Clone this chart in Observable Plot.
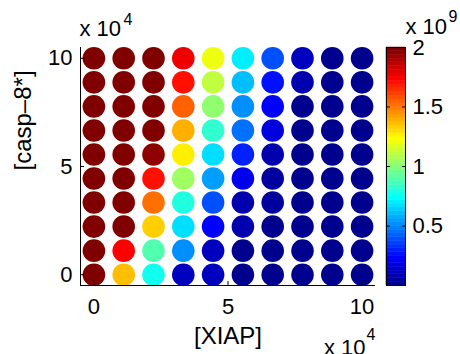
<!DOCTYPE html>
<html><head><meta charset="utf-8">
<script src="https://cdn.jsdelivr.net/npm/d3@7"></script>
<script src="https://cdn.jsdelivr.net/npm/@observablehq/plot@0.6"></script>
<style>
body{margin:0;background:#fff}
#wrap{position:relative;width:460px;height:354px;overflow:hidden}
#wrap svg{position:absolute;left:0;top:0}
</style>
</head><body><div id="wrap"></div>
<script>
// [XIAP] grid positions (columns)
const xiap = [0, 11111, 22222, 33333, 44444, 55556, 66667, 77778, 88889, 100000];
// [casp-8*] grid positions (rows, top to bottom)
const casp8 = [100000, 88889, 77778, 66667, 55556, 44444, 33333, 22222, 11111, 0];
// colour values, in units of 1e9, one row per casp8 entry
const zRows = [
  [2, 2, 2,    1.78, 1.19, 0.69, 0.38, 0.11, 0.02, 0],
  [2, 2, 2,    1.69, 1.10, 0.60, 0.25, 0.08, 0.01, 0],
  [2, 2, 2,    1.56, 1.00, 0.53, 0.22, 0.03, 0,    0],
  [2, 2, 2,    1.40, 0.84, 0.44, 0.16, 0.02, 0,    0],
  [2, 2, 1.94, 1.25, 0.66, 0.31, 0.09, 0.02, 0,    0],
  [2, 2, 1.70, 1.06, 0.55, 0.20, 0.06, 0.01, 0,    0],
  [2, 2, 1.50, 0.81, 0.40, 0.09, 0.04, 0,    0,    0],
  [2, 2, 1.32, 0.66, 0.22, 0.08, 0.02, 0,    0,    0],
  [2, 1.72, 0.88, 0.52, 0.11, 0.01, 0,   0,    0,    0],
  [2, 1.36, 0.78, 0.12, 0.10, 0.02, 0,   0,    0,    0]
];
const axisTicks = [0, 50000, 100000];
const colorTicks = [0.5e9, 1e9, 1.5e9, 2e9];
const colorDomain = [0, 2e9];

// MATLAB jet(64)
function jet64(t) {
  const i = Math.max(1, Math.min(64, Math.floor(t * 64) + 1));
  const u = k => (k < 1 || k > 47) ? 0 : k <= 16 ? k / 16 : k <= 31 ? 1 : (48 - k) / 16;
  const c = v => Math.round(v * 255);
  return `rgb(${c(u(i - 24))},${c(u(i - 8))},${c(u(i + 8))})`;
}

const cells = casp8.flatMap((y, r) => xiap.map((x, c) => ({x, y, z: zRows[r][c] * 1e9})));
const font = "'Liberation Sans', Arial, Helvetica, sans-serif";
const colorScale = {type: "linear", domain: colorDomain, interpolate: jet64};

const main = Plot.plot({
  width: 460, height: 354,
  marginLeft: 80, marginRight: 85, marginTop: 47, marginBottom: 69,
  style: {fontFamily: font, fontSize: "22px", color: "#000", background: "transparent"},
  x: {domain: [-5000, 105000]},
  y: {domain: [-5000, 105000]},
  color: colorScale,
  marks: [
    Plot.dot(cells, {x: "x", y: "y", r: 11.3, fill: "z"}),
    Plot.ruleX([-5000], {stroke: "#000"}),
    Plot.ruleY([-5000], {stroke: "#000"}),
    Plot.axisX({ticks: axisTicks, tickFormat: d => d / 1e4, tickSize: -4, tickPadding: 17, label: null}),
    Plot.axisY({ticks: axisTicks, tickFormat: d => d / 1e4, tickSize: -4, tickPadding: 12, label: null}),
    Plot.text(["[XIAP]"], {frameAnchor: "bottom", lineAnchor: "top", dy: 41, fontSize: 24}),
    Plot.text(["[casp–8*]"], {frameAnchor: "left", rotate: -90, lineAnchor: "middle", dx: -57, dy: 4, fontSize: 24}),
    Plot.text(["x 10"], {frameAnchor: "top-left", textAnchor: "start", lineAnchor: "top", dx: -1, dy: -27, fontSize: 22}),
    Plot.text(["4"], {frameAnchor: "top-left", textAnchor: "start", lineAnchor: "top", dx: 43, dy: -34, fontSize: 16}),
    Plot.text(["x 10"], {frameAnchor: "bottom-right", textAnchor: "end", lineAnchor: "top", dx: -10, dy: 54, fontSize: 22}),
    Plot.text(["4"], {frameAnchor: "bottom-right", textAnchor: "end", lineAnchor: "top", dx: 0, dy: 43, fontSize: 16})
  ]
});

const bands = d3.range(64).map(i => ({y1: i / 64 * 2e9, y2: (i + 1) / 64 * 2e9, v: (i + 0.5) / 64 * 2e9}));
const bar = Plot.plot({
  width: 460, height: 354,
  marginLeft: 386, marginRight: 55, marginTop: 47, marginBottom: 69,
  style: {fontFamily: font, fontSize: "22px", color: "#000", background: "transparent"},
  y: {domain: colorDomain},
  color: colorScale,
  marks: [
    Plot.rect(bands, {y1: "y1", y2: "y2", fill: "v", stroke: "v", strokeWidth: 0.5}),
    Plot.frame({stroke: "#000"}),
    Plot.axisY({anchor: "right", ticks: colorTicks, tickFormat: d => d / 1e9, tickSize: -4, tickPadding: 11, label: null}),
    Plot.axisY({anchor: "left", ticks: colorTicks, tickFormat: () => "", tickSize: -4, label: null}),
    Plot.text(["x 10"], {frameAnchor: "top-left", textAnchor: "start", lineAnchor: "top", dx: 19, dy: -29, fontSize: 22}),
    Plot.text(["9"], {frameAnchor: "top-left", textAnchor: "start", lineAnchor: "top", dx: 62, dy: -37, fontSize: 16})
  ]
});

const wrap = document.getElementById("wrap");
wrap.appendChild(main);
wrap.appendChild(bar);
</script>
</body></html>
